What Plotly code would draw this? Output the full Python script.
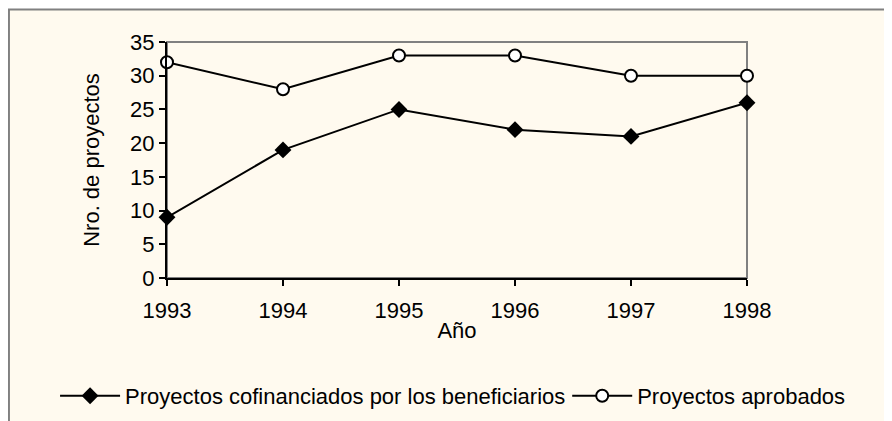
import plotly.graph_objects as go

anios = [1993, 1994, 1995, 1996, 1997, 1998]
cofinanciados = [9, 19, 25, 22, 21, 26]
aprobados = [32, 28, 33, 33, 30, 30]

fondo = "#FFFAEF"
fuente = "Liberation Sans, Arial, sans-serif"
tam = 22

fig = go.Figure()
fig.add_trace(go.Scatter(x=anios, y=cofinanciados, mode="lines+markers",
                         name="Proyectos cofinanciados por los beneficiarios",
                         line=dict(color="black", width=2),
                         marker=dict(symbol="diamond", size=13, color="black"),
                         cliponaxis=False, legend="legend"))
fig.add_trace(go.Scatter(x=anios, y=aprobados, mode="lines+markers",
                         name="Proyectos aprobados",
                         line=dict(color="black", width=2),
                         marker=dict(symbol="circle", size=12, color="white",
                                     line=dict(color="black", width=2)),
                         cliponaxis=False, legend="legend2"))

# marco exterior del grafico
fig.add_shape(type="rect", xref="paper", yref="paper",
              x0=-0.2725, x1=2, y0=-2, y1=1.138,
              line=dict(color="#808080", width=2), fillcolor=fondo, layer="below")
# borde superior y derecho del area de trazado
fig.add_shape(type="rect", xref="x domain", yref="y domain",
              x0=0, x1=1, y0=0, y1=1,
              line=dict(color="#808080", width=2), layer="below")

fig.update_xaxes(range=[1993, 1998], tickvals=anios, showline=True, linecolor="black",
                 linewidth=2, ticks="outside", ticklen=6, tickcolor="black", tickwidth=1.5,
                 showgrid=False, zeroline=False, ticklabelstandoff=6,
                 tickfont=dict(size=tam, color="black"),
                 title=dict(text="Año", font=dict(size=tam, color="black"), standoff=0))
fig.update_yaxes(range=[0, 35], dtick=5, showline=True, linecolor="black",
                 linewidth=2, ticks="outside", ticklen=6, tickcolor="black", tickwidth=1.5,
                 showgrid=False, zeroline=False,
                 tickfont=dict(size=tam, color="black"),
                 title=dict(text="Nro. de proyectos", font=dict(size=tam, color="black"), standoff=24))

# ejes superpuestos para que las marcas crucen el eje
fig.update_layout(
    xaxis2=dict(overlaying="x", matches="x", range=[1993, 1998], tickvals=anios,
                ticks="inside", ticklen=6, tickcolor="black", tickwidth=1.5,
                showticklabels=False, showgrid=False, zeroline=False, side="bottom"),
    yaxis2=dict(overlaying="y", matches="y", range=[0, 35], dtick=5,
                ticks="inside", ticklen=6, tickcolor="black", tickwidth=1.5,
                showticklabels=False, showgrid=False, zeroline=False, side="left"))

leyenda = dict(orientation="h", xanchor="left", yanchor="middle", y=-0.5,
               bgcolor="rgba(0,0,0,0)", font=dict(size=tam), itemwidth=60)
fig.update_layout(width=892, height=421,
                  margin=dict(l=159, r=153, t=34, b=151),
                  paper_bgcolor="white", plot_bgcolor=fondo,
                  font=dict(family=fuente, size=tam, color="black"),
                  showlegend=True,
                  legend=dict(leyenda, x=-0.193),
                  legend2=dict(leyenda, x=0.69))

fig.write_html("out.html")
